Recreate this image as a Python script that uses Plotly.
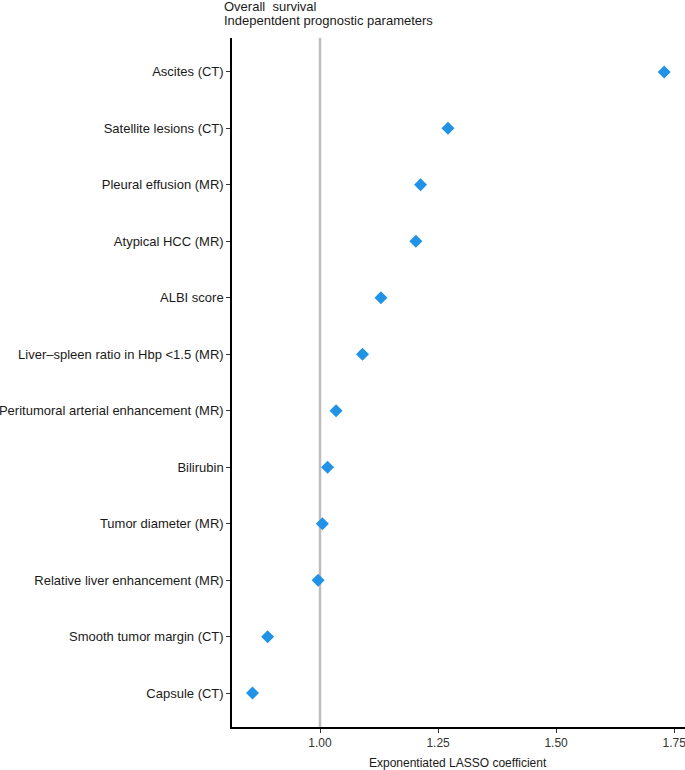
import plotly.graph_objects as go

categories = [
    "Ascites (CT)",
    "Satellite lesions (CT)",
    "Pleural effusion (MR)",
    "Atypical HCC (MR)",
    "ALBI score",
    "Liver\u2013spleen ratio in Hbp <1.5 (MR)",
    "Peritumoral arterial enhancement (MR)",
    "Bilirubin",
    "Tumor diameter (MR)",
    "Relative liver enhancement (MR)",
    "Smooth tumor margin (CT)",
    "Capsule (CT)",
]
values = [1.729, 1.271, 1.213, 1.203, 1.129, 1.090, 1.034, 1.016, 1.005, 0.996, 0.889, 0.857]
x_ticks = [1.00, 1.25, 1.50, 1.75]
x_tick_labels = ["1.00", "1.25", "1.50", "1.75"]

W, H = 685, 770
ML, MR, MT, MB = 232, 0, 38, 43
font_family = "Liberation Sans, Arial, Helvetica, sans-serif"

fig = go.Figure()
fig.add_trace(go.Scatter(
    x=values, y=categories, mode="markers",
    marker=dict(symbol="diamond", size=10, color="#2193E6"),
    showlegend=False, cliponaxis=False,
))

fig.add_vline(x=1.0, line=dict(color="#BDBDBD", width=2.5), layer="below")

plot_h = H - MT - MB
plot_w = W - ML - MR
def paper_y(px):
    return (H - MB - px) / plot_h
def paper_x(px):
    return (px - ML) / plot_w

fig.update_layout(
    width=W, height=H,
    margin=dict(l=ML, r=MR, t=MT, b=MB, pad=0, autoexpand=False),
    paper_bgcolor="white", plot_bgcolor="white",
    font=dict(family=font_family, size=13, color="#1a1a1a"),
    xaxis=dict(
        range=[0.8136, 1.773],
        tickvals=x_ticks, ticktext=x_tick_labels,
        showgrid=False, zeroline=False, automargin=False,
        ticklabeloverflow="allow",
        showline=True, linecolor="black", linewidth=1.5,
        ticks="outside", ticklen=4, tickcolor="#333", tickwidth=1,
        tickfont=dict(size=12, color="#333"),
    ),
    yaxis=dict(
        categoryorder="array", categoryarray=categories,
        autorange=False, range=[11.6, -0.6],
        showgrid=False, zeroline=False, automargin=False,
        ticklabeloverflow="allow",
        showline=True, linecolor="black", linewidth=1.5,
        ticks="outside", ticklen=4, tickcolor="#333", tickwidth=1,
        tickfont=dict(size=13, color="#1a1a1a"),
    ),
    annotations=[
        dict(text="Overall\u00a0 survival", xref="paper", yref="paper",
             x=paper_x(222), y=paper_y(7), xanchor="left", yanchor="middle",
             showarrow=False, font=dict(size=13, color="#1a1a1a")),
        dict(text="Indepentdent prognostic parameters", xref="paper", yref="paper",
             x=paper_x(222), y=paper_y(21), xanchor="left", yanchor="middle",
             showarrow=False, font=dict(size=13, color="#1a1a1a")),
        dict(text="Exponentiated LASSO coefficient", xref="paper", yref="paper",
             x=paper_x(458), y=paper_y(763), xanchor="center", yanchor="middle",
             showarrow=False, font=dict(size=12, color="#1a1a1a")),
    ],
)

fig.write_html(
    "out.html",
    config={"displayModeBar": False},
    post_script="document.body.style.margin='0';document.body.style.overflow='hidden';",
)
